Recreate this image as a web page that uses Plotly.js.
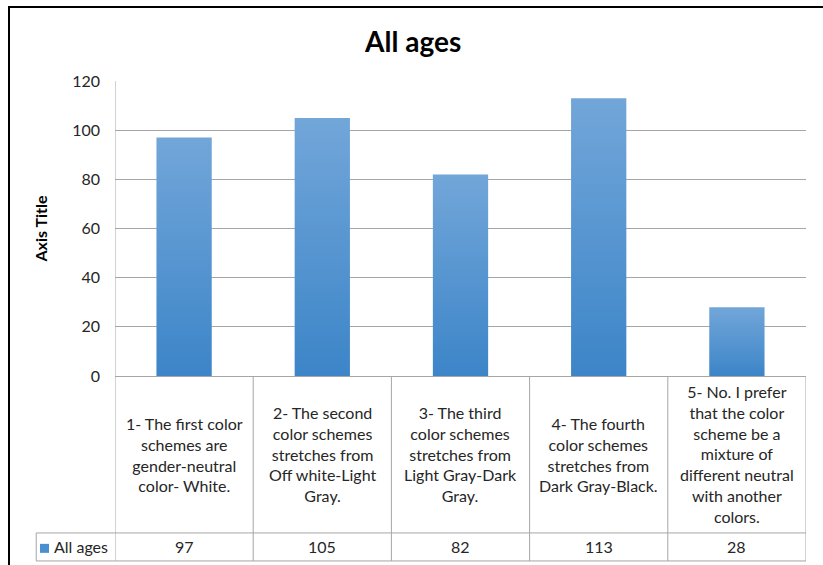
<!DOCTYPE html>
<html>
<head>
<meta charset="utf-8">
<script src="https://cdn.plot.ly/plotly-3.0.1.min.js"></script>
<style>
  html, body { margin: 0; padding: 0; background: #ffffff; overflow: hidden; width: 823px; height: 565px; }
  #wrap { position: relative; width: 823px; height: 565px; overflow: hidden; background: #ffffff; }
  #chart { position: absolute; left: 0; top: 0; width: 823px; height: 565px; }
  /* chart-area frame: only the left and top edges fall inside the page */
  #frame { position: absolute; left: 8px; top: 6px; width: 815px; height: 559px;
           border-left: 2px solid #000; border-top: 2px solid #000; box-sizing: border-box;
           pointer-events: none; }
</style>
</head>
<body>
<div id="wrap">
  <div id="chart"></div>
  <div id="frame"></div>
</div>
<script>
// Survey answers on preferred colour schemes, all age groups together
const seriesName = "All ages";
const categories = [
  "1- The first color<br>schemes are<br>gender-neutral<br>color- White.",
  "2- The second<br>color schemes<br>stretches from<br>Off white-Light<br>Gray.",
  "3- The third<br>color schemes<br>stretches from<br>Light Gray-Dark<br>Gray.",
  "4- The fourth<br>color schemes<br>stretches from<br>Dark Gray-Black.",
  "5- No. I prefer<br>that the color<br>scheme be a<br>mixture of<br>different neutral<br>with another<br>colors."
];
const values = [97, 105, 82, 113, 28];
const yTicks = [0, 20, 40, 60, 80, 100, 120];

const FONT = "Lato, 'Open Sans', sans-serif";
const TEXT = "#262626";
const GRID = "#a6a6a6";
const idx = categories.map((_, i) => i);

// paper coordinates of the data-table rows below the plot
const rowTop = 0;
const rowMid = -0.532;
const rowBottom = -0.627;
const legendLeft = -0.114;

const trace = {
  type: "bar",
  x: idx,
  y: values,
  name: seriesName,
  marker: { color: "#5b9bd5", line: { width: 0 } },
  hoverinfo: "y"
};

const shapes = [];
// table horizontal rules
shapes.push({ type: "line", xref: "paper", yref: "paper", x0: legendLeft, x1: 1, y0: rowMid, y1: rowMid, line: { color: GRID, width: 1 } });
shapes.push({ type: "line", xref: "paper", yref: "paper", x0: legendLeft, x1: 1, y0: rowBottom, y1: rowBottom, line: { color: GRID, width: 1 } });
shapes.push({ type: "line", xref: "paper", yref: "paper", x0: legendLeft, x1: legendLeft, y0: rowMid, y1: rowBottom, line: { color: GRID, width: 1 } });
// table vertical rules at category boundaries
for (let i = 0; i <= categories.length; i++) {
  shapes.push({ type: "line", xref: "x", yref: "paper", x0: i - 0.5, x1: i - 0.5,
    y0: i === 0 ? 1 : rowTop, y1: rowBottom, line: { color: GRID, width: 1 } });
}
// legend key swatch
shapes.push({ type: "rect", xref: "paper", yref: "paper",
  x0: -0.1085, x1: -0.0955, y0: -0.569, y1: -0.5995,
  line: { width: 0 }, fillcolor: "#4a8fd0" });

const annotations = [];
categories.forEach((c, i) => {
  annotations.push({ xref: "x", yref: "paper", x: i, y: (rowTop + rowMid) / 2,
    text: c, showarrow: false, xanchor: "center", yanchor: "middle", align: "center",
    font: { family: FONT, size: 16, color: TEXT } });
  annotations.push({ xref: "x", yref: "paper", x: i, y: (rowMid + rowBottom) / 2,
    text: String(values[i]), showarrow: false, xanchor: "center", yanchor: "middle",
    font: { family: FONT, size: 16, color: TEXT } });
});
annotations.push({ xref: "paper", yref: "paper", x: -0.007, y: (rowMid + rowBottom) / 2,
  text: seriesName, showarrow: false, xanchor: "right", yanchor: "middle",
  font: { family: FONT, size: 16, color: TEXT } });

const layout = {
  width: 823, height: 565,
  margin: { l: 115, r: 17, t: 81, b: 189 },
  paper_bgcolor: "#ffffff", plot_bgcolor: "#ffffff",
  showlegend: false,
  bargap: 0.6,
  title: { text: "<b>All ages</b>", x: 0.502, xref: "container", xanchor: "center",
    y: 0.925, yref: "container", yanchor: "middle",
    font: { family: FONT, size: 28, color: "#000000" } },
  xaxis: { range: [-0.5, categories.length - 0.5], showticklabels: false, ticks: "",
    showgrid: false, zeroline: false, showline: true, linecolor: GRID, linewidth: 1, fixedrange: true },
  yaxis: { range: [0, 120], tickvals: yTicks, ticktext: yTicks.map(String),
    showgrid: true, gridcolor: GRID, gridwidth: 1, zeroline: false,
    showline: false, ticks: "", ticklabelstandoff: 14,
    tickfont: { family: FONT, size: 16, color: TEXT },
    title: { text: "<b>Axis Title</b>", standoff: 20, font: { family: FONT, size: 16, color: "#000000" } },
    fixedrange: true },
  shapes: shapes,
  annotations: annotations
};

Plotly.newPlot("chart", [trace], layout, { displayModeBar: false, staticPlot: true }).then(gd => {
  // vertical light-to-dark fill on every bar
  const svg = gd.querySelector("svg.main-svg");
  const ns = "http://www.w3.org/2000/svg";
  let defs = svg.querySelector("defs");
  if (!defs) { defs = document.createElementNS(ns, "defs"); svg.insertBefore(defs, svg.firstChild); }
  const grad = document.createElementNS(ns, "linearGradient");
  grad.setAttribute("id", "barFill");
  grad.setAttribute("x1", "0"); grad.setAttribute("y1", "0");
  grad.setAttribute("x2", "0"); grad.setAttribute("y2", "1");
  [["0", "#72a6d9"], ["1", "#3c85c8"]].forEach(([o, c]) => {
    const s = document.createElementNS(ns, "stop");
    s.setAttribute("offset", o); s.setAttribute("stop-color", c);
    grad.appendChild(s);
  });
  defs.appendChild(grad);
  gd.querySelectorAll(".barlayer .point path").forEach(p => { p.style.fill = "url(#barFill)"; });
});
</script>
</body>
</html>
